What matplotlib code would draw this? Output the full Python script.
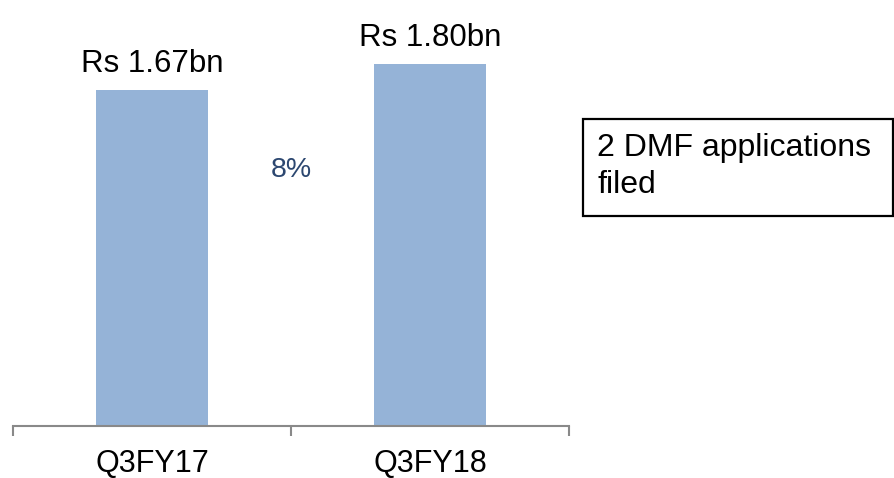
import matplotlib
matplotlib.use("Agg")
import matplotlib.pyplot as plt
from matplotlib.patches import Rectangle

plt.rcParams['font.family'] = ['Liberation Sans', 'DejaVu Sans']

categories = ["Q3FY17", "Q3FY18"]
revenue_bn = [1.67, 1.80]
value_labels = ["Rs 1.67bn", "Rs 1.80bn"]
growth_label = "8%"
note_lines = ["2 DMF applications", "filed"]

W, H = 894, 478
fig = plt.figure(figsize=(W / 100, H / 100), dpi=100)

# axes placed in pixel terms
ax_left, ax_right = 13, 569
ax_bottom_px = 425.5        # y of baseline from top
px_per_unit = 201
ymax = 2.05
ax_h = ymax * px_per_unit
ax = fig.add_axes([ax_left / W, (H - ax_bottom_px) / H,
                   (ax_right - ax_left) / W, ax_h / H])

x = list(range(len(categories)))
ax.bar(x, revenue_bn, width=0.4, color="#95B3D7", zorder=2)
ax.set_xlim(-0.5, len(categories) - 0.5)
ax.set_ylim(0, ymax)

for xi, v, lab in zip(x, revenue_bn, value_labels):
    ax.annotate(lab, (xi, v), xytext=(0, 13), textcoords="offset points",
                ha="center", va="baseline", fontsize=22.5, color="black")

ax.annotate(growth_label, (0.5, 0), xycoords=("data", "axes fraction"),
            xytext=(0, (ax_bottom_px - 177) * 0.72), textcoords="offset points",
            ha="center", va="baseline", fontsize=20.5, color="#2C4770")

for s in ("top", "right", "left"):
    ax.spines[s].set_visible(False)
ax.spines["bottom"].set_color("#898989")
ax.spines["bottom"].set_linewidth(1.5)
ax.set_yticks([])
ax.set_xticks(x)
ax.set_xticklabels(categories, fontsize=22)
ax.tick_params(axis="x", which="major", length=0, pad=17)
ax.set_xticks([-0.5, 0.5, 1.5], minor=True)
ax.tick_params(axis="x", which="minor", length=7.5, width=1.5, color="#898989")

# note box at right
bx0, bx1, by0, by1 = 583, 893, 119, 216
fig.patches.append(Rectangle((bx0 / W, 1 - by1 / H), (bx1 - bx0) / W, (by1 - by0) / H,
                             transform=fig.transFigure, fill=False,
                             edgecolor="black", linewidth=1.6))
for line, base in zip(note_lines, [156, 193]):
    fig.text(597 / W, 1 - base / H, line, ha="left", va="baseline",
             fontsize=23, color="black")

fig.savefig("out.png", dpi=100)
